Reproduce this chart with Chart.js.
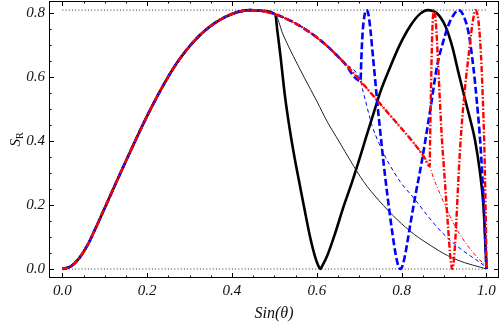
<!DOCTYPE html>
<html>
<head>
<meta charset="utf-8">
<script src="https://cdn.jsdelivr.net/npm/chart.js@4.4.1/dist/chart.umd.min.js"></script>
<style>
  html, body { margin: 0; padding: 0; background: #fff; }
  #wrap { width: 500px; height: 326px; }
</style>
</head>
<body>
<div id="wrap"><canvas id="srChart" width="500" height="326"></canvas></div>
<script>
// S_R vs Sin(theta)

const xTickVals = [0, 0.2, 0.4, 0.6, 0.8, 1.0];
const yTickVals = [0, 0.2, 0.4, 0.6, 0.8];
const refLevels = [0, 0.81];
const refX = [0, 1];

// shared rising part (all six curves), up to sin = 0.5
const commonX = [0, 0.02, 0.04, 0.06, 0.08, 0.1, 0.12, 0.14, 0.16, 0.18, 0.2, 0.22, 0.24, 0.26, 0.28, 0.3, 0.32, 0.34, 0.36, 0.38, 0.4, 0.42, 0.443, 0.467, 0.502];
const commonY = [0, 0.008, 0.034, 0.076, 0.132, 0.191, 0.25, 0.309, 0.367, 0.424, 0.479, 0.531, 0.579, 0.624, 0.663, 0.697, 0.726, 0.750, 0.770, 0.786, 0.798, 0.806, 0.81, 0.808, 0.797];

// shared by blue and red, up to sin = 0.707
const midX = [0.545, 0.584, 0.624, 0.663, 0.703];
const midY = [0.772, 0.740, 0.698, 0.647, 0.588];

// red only, up to sin = 0.866
const lateX = [0.746, 0.785, 0.825, 0.852, 0.866];
const lateY = [0.522, 0.462, 0.400, 0.352, 0.322];

// black thick branch
const bkThickX = [0.507, 0.514, 0.525, 0.537, 0.548, 0.56, 0.572, 0.584, 0.596, 0.603, 0.608, 0.614, 0.624, 0.643, 0.663, 0.683, 0.702, 0.714, 0.742, 0.75, 0.773, 0.797, 0.821, 0.844, 0.862, 0.883, 0.903, 0.919, 0.934, 0.95, 0.962, 0.973, 0.985, 0.993, 0.997, 1.0];
const bkThickY = [0.745, 0.67, 0.54, 0.43, 0.345, 0.262, 0.18, 0.101, 0.038, 0.012, 0, 0.013, 0.04, 0.111, 0.195, 0.272, 0.351, 0.403, 0.522, 0.555, 0.632, 0.705, 0.762, 0.799, 0.81, 0.8, 0.76, 0.697, 0.614, 0.528, 0.466, 0.403, 0.299, 0.195, 0.09, 0];

// black thin branch
const bkThinX = [0.52, 0.545, 0.57, 0.6, 0.625, 0.652, 0.68, 0.71, 0.746, 0.789, 0.83, 0.87, 0.908, 0.948, 0.985, 1.0];
const bkThinY = [0.735, 0.665, 0.6, 0.525, 0.46, 0.40, 0.337, 0.274, 0.215, 0.155, 0.108, 0.072, 0.042, 0.02, 0.006, 0];

// blue thick branch
const blThickX = [0.705, 0.708, 0.712, 0.717, 0.722, 0.727, 0.732, 0.737, 0.742, 0.75, 0.758, 0.766, 0.777, 0.786, 0.792, 0.797, 0.802, 0.809, 0.821, 0.832, 0.848, 0.858, 0.871, 0.883, 0.899, 0.91, 0.921, 0.934, 0.946, 0.958, 0.969, 0.977, 0.985, 0.991, 0.996, 1.0];
const blThickY = [0.66, 0.74, 0.79, 0.81, 0.795, 0.74, 0.67, 0.6, 0.528, 0.424, 0.325, 0.235, 0.123, 0.045, 0.01, 0, 0.01, 0.05, 0.144, 0.227, 0.34, 0.42, 0.528, 0.632, 0.716, 0.762, 0.792, 0.81, 0.792, 0.737, 0.632, 0.528, 0.403, 0.27, 0.13, 0];

// blue thin branch
const blThinX = [0.709, 0.715, 0.722, 0.73, 0.738, 0.746, 0.758, 0.77, 0.797, 0.83, 0.862, 0.896, 0.932, 0.962, 0.983, 1.0];
const blThinY = [0.555, 0.525, 0.488, 0.45, 0.42, 0.395, 0.36, 0.33, 0.272, 0.22, 0.165, 0.113, 0.07, 0.041, 0.022, 0.005];

// red thick branch
const rdThickX = [0.867, 0.869, 0.871, 0.873, 0.876, 0.879, 0.882, 0.886, 0.89, 0.895, 0.9, 0.905, 0.91, 0.914, 0.917, 0.919, 0.922, 0.925, 0.929, 0.933, 0.937, 0.941, 0.946, 0.952, 0.958, 0.964, 0.969, 0.974, 0.979, 0.983, 0.987, 0.99, 0.993, 0.995, 0.997, 0.999, 1.0];
const rdThickY = [0.40, 0.55, 0.68, 0.77, 0.81, 0.795, 0.745, 0.64, 0.53, 0.405, 0.31, 0.215, 0.12, 0.05, 0.012, 0, 0.015, 0.06, 0.15, 0.26, 0.36, 0.44, 0.52, 0.6, 0.67, 0.74, 0.785, 0.81, 0.795, 0.75, 0.67, 0.58, 0.47, 0.38, 0.25, 0.11, 0];

// red thin branch
const rdThinX = [0.875, 0.89, 0.912, 0.936, 0.96, 0.983, 1.0];
const rdThinY = [0.285, 0.237, 0.17, 0.111, 0.065, 0.03, 0.008];

function pts(xs, ys) {
  return xs.map((x, i) => ({ x: x, y: ys[i] }));
}

function curve(xs, ys, color, width, dash, order) {
  return {
    data: pts(xs, ys),
    showLine: true,
    borderColor: color,
    borderWidth: width,
    borderDash: dash,
    borderCapStyle: "butt",
    borderJoinStyle: "round",
    pointRadius: 0,
    fill: false,
    cubicInterpolationMode: "monotone",
    order: order
  };
}

const datasets = [
  curve(commonX.concat(bkThickX), commonY.concat(bkThickY), "#000000", 2.6, [], 6),
  curve(commonX.concat(bkThinX), commonY.concat(bkThinY), "#222222", 1, [], 5),
  curve(commonX.concat(midX, blThickX), commonY.concat(midY, blThickY), "#0000ff", 2.6, [7, 3], 4),
  curve(commonX.concat(midX, blThinX), commonY.concat(midY, blThinY), "#0000ff", 1, [4, 3], 3),
  curve(commonX.concat(midX, lateX, rdThickX), commonY.concat(midY, lateY, rdThickY), "#ff0000", 2.4, [6, 2, 1.5, 2], 2),
  curve(commonX.concat(midX, lateX, rdThinX), commonY.concat(midY, lateY, rdThinY), "#ff0000", 1, [4, 2, 1, 2], 1)
];

refLevels.forEach(lv => {
  datasets.push({
    data: pts(refX, [lv, lv]),
    showLine: true,
    borderColor: "#333333",
    borderWidth: 1,
    borderDash: [1, 2.2],
    pointRadius: 0,
    fill: false,
    order: 9
  });
});

const tickFont = { family: "'Liberation Serif', 'DejaVu Serif', serif", size: 15, style: "italic" };
const titleFont = { family: "'Liberation Serif', 'DejaVu Serif', serif", size: 16, style: "italic" };

// frame with inward ticks, like the original plot
const framePlugin = {
  id: "frame",
  afterDraw(chart) {
    const ctx = chart.ctx;
    const a = chart.chartArea;
    const xs = chart.scales.x, ys = chart.scales.y;
    ctx.save();
    ctx.strokeStyle = "#000";
    ctx.lineWidth = 1;
    ctx.strokeRect(Math.round(a.left) + 0.5, Math.round(a.top) + 0.5,
      Math.round(a.right - a.left) - 1, Math.round(a.bottom - a.top) - 1);
    ctx.beginPath();
    for (let i = 0; i <= 20; i++) {
      const v = i * 0.05;
      const len = (i % 4 === 0) ? 5 : 2.5;
      const px = Math.round(xs.getPixelForValue(v)) + 0.5;
      ctx.moveTo(px, a.bottom); ctx.lineTo(px, a.bottom - len);
      ctx.moveTo(px, a.top); ctx.lineTo(px, a.top + len);
    }
    for (let i = 0; i <= 16; i++) {
      const v = i * 0.05;
      const len = (i % 4 === 0) ? 5 : 2.5;
      const py = Math.round(ys.getPixelForValue(v)) + 0.5;
      ctx.moveTo(a.left, py); ctx.lineTo(a.left + len, py);
      ctx.moveTo(a.right, py); ctx.lineTo(a.right - len, py);
    }
    ctx.stroke();

    // y axis title S_R
    ctx.translate(16, (a.top + a.bottom) / 2);
    ctx.rotate(-Math.PI / 2);
    ctx.fillStyle = "#111";
    ctx.textBaseline = "alphabetic";
    ctx.font = "italic 15px 'Liberation Serif', serif";
    const w = ctx.measureText("S").width;
    ctx.font = "10px 'Liberation Serif', serif";
    const wr = ctx.measureText("R").width;
    const start = -(w + wr) / 2;
    ctx.font = "italic 15px 'Liberation Serif', serif";
    ctx.fillText("S", start, 4);
    ctx.font = "10px 'Liberation Serif', serif";
    ctx.fillText("R", start + w, 7);
    ctx.restore();
  }
};

new Chart(document.getElementById("srChart"), {
  type: "scatter",
  data: { datasets: datasets },
  options: {
    responsive: false,
    animation: false,
    devicePixelRatio: 1,
    layout: { padding: { top: 1, right: 1, left: 0, bottom: 0 } },
    plugins: {
      legend: { display: false },
      tooltip: { enabled: false }
    },
    scales: {
      x: {
        type: "linear",
        min: -0.0314,
        max: 1.0295,
        afterBuildTicks: s => { s.ticks = xTickVals.map(v => ({ value: v })); },
        afterFit: s => { s.height = 48; s.paddingLeft = 0; s.paddingRight = 0; },
        grid: { display: false, drawTicks: false },
        border: { display: false },
        ticks: {
          padding: 4,
          color: "#111",
          font: tickFont,
          callback: v => v.toFixed(1)
        },
        title: {
          display: true,
          text: "Sin(θ)",
          color: "#111",
          font: titleFont,
          padding: { top: 2, bottom: 3 }
        }
      },
      y: {
        type: "linear",
        min: -0.0282,
        max: 0.8385,
        afterBuildTicks: s => { s.ticks = yTickVals.map(v => ({ value: v })); },
        afterFit: s => { s.width = 49; s.paddingTop = 0; s.paddingBottom = 0; },
        grid: { display: false, drawTicks: false },
        border: { display: false },
        ticks: {
          padding: 4,
          color: "#111",
          font: tickFont,
          callback: v => v.toFixed(1)
        }
      }
    }
  },
  plugins: [framePlugin]
});
</script>
</body>
</html>
